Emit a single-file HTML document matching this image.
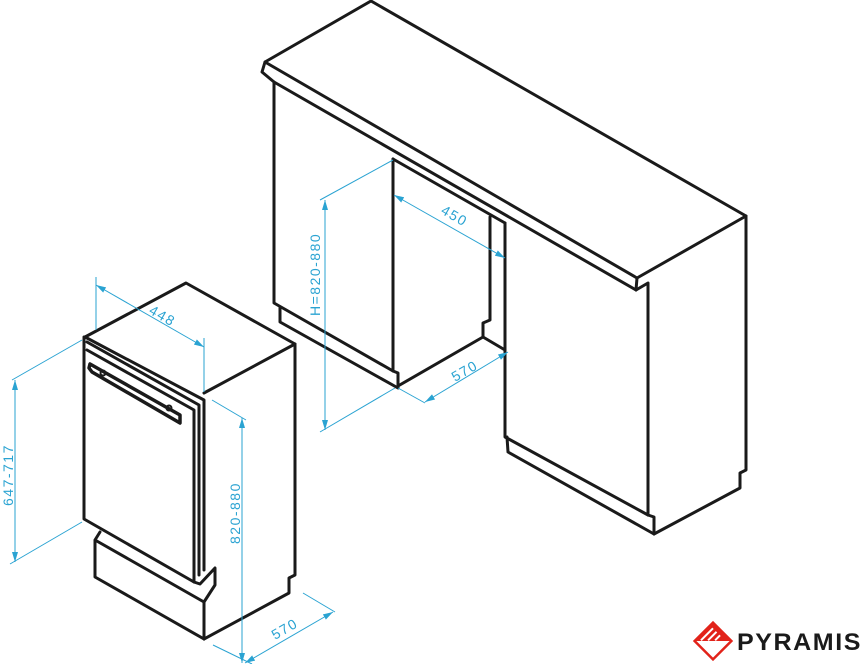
<!DOCTYPE html>
<html><head><meta charset="utf-8"><style>
html,body{margin:0;padding:0;background:#fff;width:864px;height:664px;overflow:hidden}
svg{display:block}
.k{fill:none;stroke:#1a1a1a;stroke-width:3;stroke-linejoin:round;stroke-linecap:round}
.c{fill:none;stroke:#2aa3d2;stroke-width:1}
.t{fill:#2aa3d2;font-family:"Liberation Sans",sans-serif;font-size:14px;letter-spacing:1.5px}
</style></head><body>
<svg width="864" height="664" viewBox="0 0 864 664" xmlns="http://www.w3.org/2000/svg">
<defs><marker id="a" markerWidth="10" markerHeight="6" refX="10" refY="3" orient="auto-start-reverse" markerUnits="userSpaceOnUse"><path d="M0,0 L10,3 L0,6z" fill="#2aa3d2"/></marker></defs>
<path class="k" d="M265,62 L371,1 L746,216 L637,278 Z"/>
<path class="k" d="M265,62 L262,72 L274,82 L636,290 L637,278"/>
<path class="k" d="M746,216 L746,470 L740,473 L740,488 L654,534 L654,517 L648,515 L648,283 L636,290"/>
<path class="k" d="M274,82 L274,303 L393,371 L398,373 L398,388 L280,322 L280,308"/>
<path class="k" d="M393,159 L393,371"/>
<path class="k" d="M393,159 L505,223"/>
<path class="k" d="M490,217 L490,320 L483,323 L483,337 L398,386"/>
<path class="k" d="M483,337 L505,350"/>
<path class="k" d="M505,223 L505,437 L648,515"/>
<path class="k" d="M507,437 L508,452 L654,534"/>
<path class="k" d="M85,337 L186,283 L295,344 L204,393"/>
<path class="k" d="M85,337 L204,400 L204,570"/>
<path class="k" d="M87,342 L199,405 L199,575"/>
<path class="k" d="M84,337 L84,519 L194,582 L194,410 L87,350"/>
<path class="k" d="M295,344 L295,575 L289,578 L289,593 L204,639"/>
<path class="k" d="M100,532 L95,540 L95,577 L204,639 L204,602 L95,540"/>
<path class="k" d="M194,582 L200,584 L215,568 L215,585 L204,602"/>
<path class="k" d="M89,368 L92,372 L180,423 L180,415 L90,364 Z" style="stroke-width:3.5"/>
<circle cx="103" cy="373" r="2.5" class="k" style="stroke-width:2"/><circle cx="169" cy="408" r="2.5" class="k" style="stroke-width:2"/>
<path class="c" d="M96,277 L96,330 M204,338 L204,392"/>
<path class="c" d="M96,285 L204,347" marker-start="url(#a)" marker-end="url(#a)"/>
<text class="t" transform="translate(148,313) rotate(30)">448</text>
<path class="c" d="M82,340 L12,380 M82,522 L10,564"/>
<path class="c" d="M15,380 L15,562" marker-start="url(#a)" marker-end="url(#a)"/>
<text class="t" transform="translate(13,506) rotate(-90)">647-717</text>
<path class="c" d="M212,400 L246,420 M213,645 L252,664"/>
<path class="c" d="M242,418 L242,663" marker-start="url(#a)" marker-end="url(#a)"/>
<text class="t" transform="translate(240,544) rotate(-90)">820-880</text>
<path class="c" d="M303,593 L335,612"/>
<path class="c" d="M245,663 L333,612" marker-start="url(#a)" marker-end="url(#a)"/>
<text class="t" transform="translate(275,640) rotate(-30)">570</text>
<path class="c" d="M320,200 L393,160 M320,432 L395,388"/>
<path class="c" d="M325,200 L325,430" marker-start="url(#a)" marker-end="url(#a)"/>
<text class="t" transform="translate(320,316) rotate(-90)">H=820-880</text>
<path class="c" d="M394,195 L505,258" marker-start="url(#a)" marker-end="url(#a)"/>
<text class="t" transform="translate(440,213) rotate(30)">450</text>
<path class="c" d="M398,388 L425,403"/>
<path class="c" d="M425,402 L508,352" marker-start="url(#a)" marker-end="url(#a)"/>
<text class="t" transform="translate(455,382) rotate(-30)">570</text>
<g transform="translate(713,641) rotate(45)">
<rect x="-13" y="-13" width="26" height="26" fill="#fff" stroke="#e2231a" stroke-width="2.5"/>
<path d="M-13,-13 L13,-13 L-13,13Z" fill="#e2231a"/>
<path d="M-9,-9 L-9,8 M-4,-9 L-4,3 M1,-9 L1,-2" stroke="#fff" stroke-width="2"/>
</g>
<text x="737" y="650" font-family="Liberation Sans,sans-serif" font-weight="bold" font-size="24" letter-spacing="1.5" fill="#1a1a1a" textLength="125" lengthAdjust="spacingAndGlyphs">PYRAMIS</text>
</svg>
</body></html>
